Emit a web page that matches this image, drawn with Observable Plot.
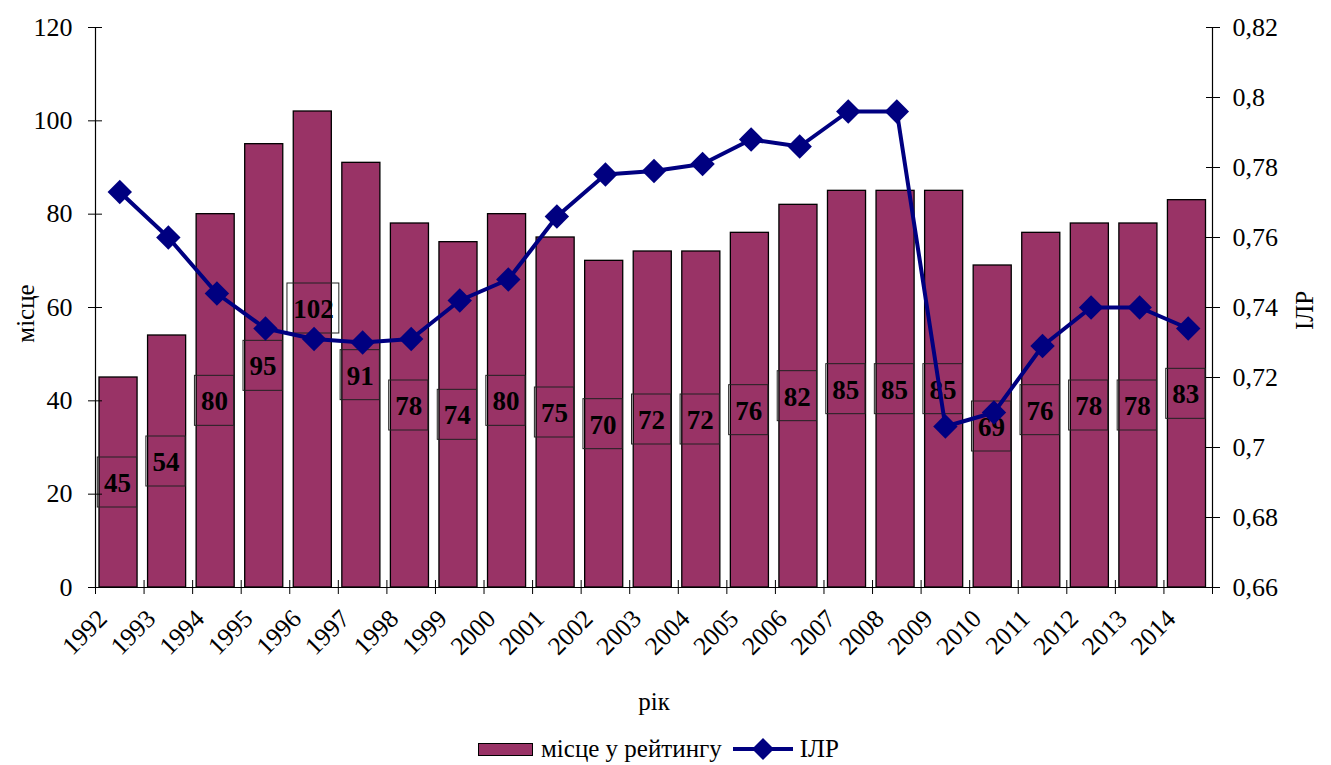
<!DOCTYPE html>
<html>
<head>
<meta charset="utf-8">
<script src="https://cdn.jsdelivr.net/npm/d3@7"></script>
<script src="https://cdn.jsdelivr.net/npm/@observablehq/plot@0.6"></script>
<style>
  body { margin: 0; background: #fff; font-family: "Liberation Serif", "Times New Roman", serif; }
  #legend { display: flex; justify-content: center; align-items: center; height: 48px; font-size: 25px; color: #000; padding-right: 14px; }
  .sw { width: 55px; height: 13px; background: #993366; border: 1px solid #000; box-sizing: border-box; margin-right: 8px; }
  .ln { margin: 0 6px 0 10px; }
</style>
</head>
<body>
<div id="chart"></div>
<div id="legend">
  <div class="sw"></div><span>місце у рейтингу</span>
  <svg class="ln" width="62" height="26"><line x1="1" y1="13" x2="61" y2="13" stroke="#000080" stroke-width="4"/><path d="M31,2L42,13L31,24L20,13Z" fill="#000080"/></svg><span>ІЛР</span>
</div>
<script>
const years = [1992,1993,1994,1995,1996,1997,1998,1999,2000,2001,2002,2003,2004,2005,2006,2007,2008,2009,2010,2011,2012,2013,2014];
const places = [45,54,80,95,102,91,78,74,80,75,70,72,72,76,82,85,85,85,69,76,78,78,83];
const hdiValues = [0.773,0.760,0.744,0.734,0.731,0.730,0.731,0.742,0.748,0.766,0.778,0.779,0.781,0.788,0.786,0.796,0.796,0.706,0.710,0.729,0.740,0.740,0.734];
const leftTicks = [0,20,40,60,80,100,120];
const rightTicks = [0.66,0.68,0.70,0.72,0.74,0.76,0.78,0.80,0.82];

const data = years.map((year, i) => ({year, place: places[i], hdi: hdiValues[i]}));
// map the HDI (right axis) onto the place (left axis) domain
const hdiToPlace = d3.scaleLinear().domain([0.66, 0.82]).range([0, 120]);
const fmtHdi = v => String(+v.toFixed(2)).replace(".", ",");

const small = data.filter(d => d.place < 100);
const big = data.filter(d => d.place >= 100);

const chart = Plot.plot({
  width: 1331,
  height: 725,
  marginLeft: 95,
  marginRight: 119,
  marginTop: 27,
  marginBottom: 138,
  x: {domain: [1992, 2015], axis: null},
  y: {domain: [0, 120], axis: null},
  style: {fontFamily: "Liberation Serif, Times New Roman, serif", fontSize: "26px", color: "#000", background: "#fff"},
  marks: [
    Plot.rectY(data, {x1: "year", x2: d => d.year + 1, y: "place", fill: "#993366", stroke: "#000", strokeWidth: 1.3, insetLeft: 4, insetRight: 6.5}),
    // label boxes
    Plot.rect(small, {x1: "year", x2: d => d.year + 1, y1: d => d.place / 2, y2: d => d.place / 2, insetLeft: 2.3, insetRight: 7, insetTop: -25, insetBottom: -25, fill: "none", stroke: "#222", strokeWidth: 1}),
    Plot.rect(big, {x1: "year", x2: d => d.year + 1, y1: d => d.place / 2, y2: d => d.place / 2, insetLeft: -2.3, insetRight: -1, insetTop: -25, insetBottom: -25, dy: -41, fill: "none", stroke: "#222", strokeWidth: 1}),
    Plot.text(small, {x: d => d.year + 0.5, y: d => d.place / 2, text: d => String(d.place), fontWeight: "bold", fontSize: 27, dx: -2.4, dy: 1, fill: "#000"}),
    Plot.text(big, {x: d => d.year + 0.5, y: d => d.place / 2, text: d => String(d.place), fontWeight: "bold", fontSize: 27, dx: -0.6, dy: -40, fill: "#000"}),
    // axis lines
    Plot.ruleX([1992], {stroke: "#000", strokeWidth: 1.2}),
    Plot.ruleX([2015], {stroke: "#000", strokeWidth: 1.2}),
    Plot.ruleY([0], {stroke: "#000", strokeWidth: 1.2}),
    // left axis ticks + labels
    Plot.axisY({anchor: "left", ticks: leftTicks, tickSize: 14, dx: 7, tickFormat: () => "", label: null, stroke: "#000"}),
    Plot.text(leftTicks, {y: d => d, text: d => String(d), frameAnchor: "left", textAnchor: "end", dx: -23, fontSize: 26, fill: "#000"}),
    // right axis ticks + labels
    Plot.axisY({anchor: "right", ticks: rightTicks.map(v => hdiToPlace(v)), tickSize: 14, dx: -7, tickFormat: () => "", label: null, stroke: "#000"}),
    Plot.text(rightTicks, {y: v => hdiToPlace(v), text: fmtHdi, frameAnchor: "right", textAnchor: "start", dx: 20, fontSize: 26, fill: "#000"}),
    // bottom ticks at category boundaries
    Plot.axisX({ticks: d3.range(1992, 2016), tickSize: 14, dy: -7, tickFormat: () => "", label: null, stroke: "#000"}),
    // bottom labels at category centres
    Plot.text(years, {x: d => d + 0.5, text: d => String(d), frameAnchor: "bottom", rotate: -45, textAnchor: "end", lineAnchor: "middle", dx: -17, dy: 27, fontSize: 25.5, fill: "#000"}),
    // HDI line
    Plot.line(data, {x: d => d.year + 0.5, y: d => hdiToPlace(d.hdi), stroke: "#000080", strokeWidth: 4}),
    Plot.dot(data, {x: d => d.year + 0.5, y: d => hdiToPlace(d.hdi), symbol: "diamond2", r: 11, fill: "#000080", stroke: "none"}),
    // axis titles
    Plot.text(["місце"], {frameAnchor: "left", textAnchor: "middle", rotate: -90, dx: -70, dy: 6, fontSize: 25, fill: "#000"}),
    Plot.text(["ІЛР"], {frameAnchor: "right", textAnchor: "middle", rotate: -90, dx: 92, dy: 3, fontSize: 25, fill: "#000"}),
    Plot.text(["рік"], {frameAnchor: "bottom", dy: 122, fontSize: 25, fill: "#000"})
  ]
});
document.getElementById("chart").append(chart);
</script>
</body>
</html>
